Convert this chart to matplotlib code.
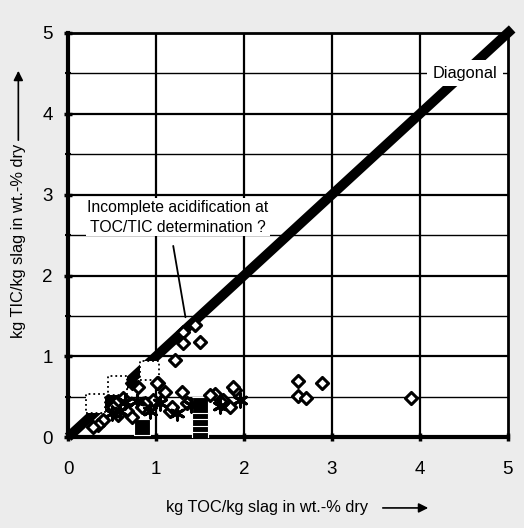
import matplotlib.pyplot as plt
import matplotlib.font_manager as fm
import numpy as np

# open diamonds (TOC, TIC)
dia_x = [1.44, 1.31, 1.31, 1.50, 1.22, 1.02, 0.80, 2.61, 2.89, 2.61, 2.71, 3.90,
         1.90, 1.76, 1.67, 1.01, 1.10, 1.30, 1.61, 1.84, 1.75, 1.16, 0.97, 0.88,
         0.84, 1.35, 1.18, 0.67, 0.73, 0.51, 0.57, 0.40, 0.34, 0.28, 1.88, 0.62]
dia_y = [1.39, 1.30, 1.16, 1.18, 0.95, 0.67, 0.62, 0.70, 0.67, 0.51, 0.49, 0.48,
         0.58, 0.46, 0.54, 0.67, 0.56, 0.56, 0.52, 0.37, 0.42, 0.33, 0.46, 0.42,
         0.37, 0.42, 0.37, 0.33, 0.25, 0.37, 0.27, 0.21, 0.15, 0.12, 0.62, 0.48]
# open squares, dotted
sq_x = [0.93, 0.56, 0.31]
sq_y = [0.83, 0.64, 0.42]
# filled squares
fsq_x = [0.84, 1.50, 1.50, 1.50, 1.50, 1.50]
fsq_y = [0.12, 0.08, 0.16, 0.24, 0.32, 0.40]
# asterisks
ast_x = [0.65, 0.59, 0.93, 1.24, 1.05, 1.95, 1.73, 0.78, 1.40, 0.50]
ast_y = [0.43, 0.33, 0.33, 0.30, 0.42, 0.46, 0.38, 0.45, 0.40, 0.30]
# filled diamond
fd_x = [0.73]
fd_y = [0.67]

font = ['Liberation Sans Narrow', 'Liberation Sans', 'DejaVu Sans']
names = {f.name for f in fm.fontManager.ttflist}
plt.rcParams['font.family'] = [f for f in font if f in names] or ['DejaVu Sans']

fig = plt.figure(figsize=(5.24, 5.28), dpi=100, facecolor='#ececec')
ax = fig.add_axes([0.130, 0.172, 0.839, 0.7655])
ax.set_facecolor('white')
ax.set_xlim(0, 5)
ax.set_ylim(0, 5)

# grid
for v in [1, 2, 3, 4]:
    ax.axvline(v, color='black', lw=1.6, zorder=1)
    ax.axhline(v, color='black', lw=1.6, zorder=1)
for v in [0.5, 1.5, 2.5, 3.5, 4.5]:
    ax.axhline(v, color='black', lw=1.0, zorder=1)

ax.plot([0, 5.05], [0, 5.05], color='black', lw=7, solid_capstyle='butt',
        zorder=2, clip_on=False)

ax.scatter(sq_x, sq_y, marker='s', s=190, facecolors='white', edgecolors='black',
           linewidths=1.3, linestyles=':', zorder=3)
ax.scatter(fsq_x, fsq_y, marker='s', s=140, facecolors='black', edgecolors='white',
           linewidths=0.8, zorder=3)
ax.scatter(dia_x, dia_y, marker='D', s=38, facecolors='white', edgecolors='black',
           linewidths=2.2, zorder=4)
ax.scatter(fd_x, fd_y, marker='D', s=45, facecolors='black', edgecolors='black',
           linewidths=1.5, zorder=4)
ax.scatter(ast_x, ast_y, marker=(6, 2, 0), s=90, color='black', linewidths=2.2, zorder=5)

for side in ['left', 'bottom']:
    ax.spines[side].set_linewidth(3)
for side in ['top', 'right']:
    ax.spines[side].set_linewidth(2)

ax.set_xticks([0, 1, 2, 3, 4, 5])
ax.set_yticks([0, 1, 2, 3, 4, 5])
ax.set_yticks([0.5, 1.5, 2.5, 3.5, 4.5], minor=True)
ax.tick_params(axis='both', which='major', direction='inout', length=6, width=2.5,
               labelsize=13.5)
ax.tick_params(axis='y', which='minor', direction='inout', length=4, width=1.5)
ax.tick_params(axis='x', pad=14)
ax.tick_params(axis='y', pad=8)

ax.text(1.25, 2.72, 'Incomplete acidification at\nTOC/TIC determination ?',
        ha='center', va='center', fontsize=11.3, linespacing=1.45, zorder=6,
        bbox=dict(facecolor='white', edgecolor='none', pad=1))
ax.annotate('', xy=(1.34, 1.45), xytext=(1.19, 2.4),
            arrowprops=dict(arrowstyle='-', color='black', lw=1.3), zorder=6)
ax.text(4.51, 4.5, 'Diagonal', ha='center', va='center', fontsize=11.8, zorder=6,
        bbox=dict(facecolor='white', edgecolor='none', pad=4))

fig.text(0.51, 0.038, 'kg TOC/kg slag in wt.-% dry', ha='center', va='center',
         fontsize=11.8)
fig.text(0.035, 0.543, 'kg TIC/kg slag in wt.-% dry', ha='center', va='center',
         fontsize=11.8, rotation=90)
fig.add_artist(plt.matplotlib.patches.FancyArrowPatch(
    (380 / 524, 0.038), (431 / 524, 0.038), transform=fig.transFigure,
    arrowstyle='-|>', mutation_scale=14, color='black', lw=1.2))
fig.add_artist(plt.matplotlib.patches.FancyArrowPatch(
    (0.035, 1 - 143 / 528), (0.035, 1 - 68 / 528), transform=fig.transFigure,
    arrowstyle='-|>', mutation_scale=14, color='black', lw=1.2))

fig.savefig('out.png', dpi=100, facecolor=fig.get_facecolor())
